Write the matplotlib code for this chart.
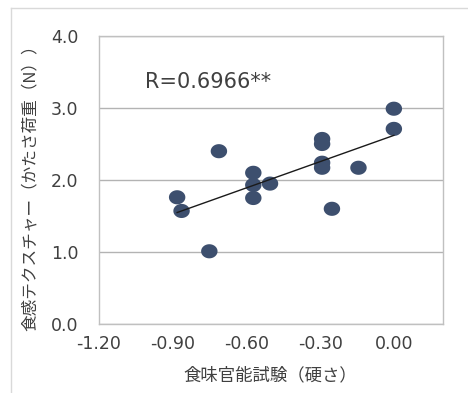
import numpy as np
import matplotlib
matplotlib.use("Agg")
import matplotlib.pyplot as plt
from matplotlib.lines import Line2D
from matplotlib.path import Path

plt.rcParams['font.family'] = ['Noto Sans CJK JP', 'DejaVu Sans']

# Data
hardness = [-0.882, -0.864, -0.751, -0.712, -0.572, -0.572, -0.572, -0.504,
            -0.292, -0.292, -0.292, -0.292, -0.252, -0.144, 0.0, 0.0]
load_N = [1.76, 1.57, 1.01, 2.40, 2.10, 1.93, 1.75, 1.95,
          2.57, 2.50, 2.24, 2.17, 1.60, 2.17, 2.99, 2.71]
x_ticks = [-1.20, -0.90, -0.60, -0.30, 0.00]
x_tick_labels = ["-1.20", "-0.90", "-0.60", "-0.30", "0.00"]
y_ticks = [0.0, 1.0, 2.0, 3.0, 4.0]
y_tick_labels = ["0.0", "1.0", "2.0", "3.0", "4.0"]
r_label = "R=0.6966**"
x_label = "食味官能試験（硬さ）"
y_label = "食感テクスチャー（かたさ荷重（N））"

W, H = 468, 393
fig = plt.figure(figsize=(W / 100, H / 100), dpi=100)
ax = fig.add_axes([99 / W, (H - 324) / H, 344 / W, 288 / H])

txt = '#404040'
t = np.linspace(0, 2 * np.pi, 60)
ellipse = Path(np.column_stack([np.cos(t), 0.86 * np.sin(t)]), closed=True)
ax.scatter(hardness, load_N, s=140, marker=ellipse, color='#3d4f6e',
           edgecolors='none', zorder=3)

xs = np.array(hardness)
ys = np.array(load_N)
m, b = np.polyfit(xs, ys, 1)
xl = np.array([xs.min(), xs.max()])
ax.plot(xl, m * xl + b, color='#1a1a1a', lw=1.0, zorder=4)

ax.set_xlim(-1.2, 0.2)
ax.set_ylim(0, 4)
ax.set_xticks(x_ticks)
ax.set_xticklabels(x_tick_labels, family='DejaVu Sans')
ax.set_yticks(y_ticks)
ax.set_yticklabels(y_tick_labels, family='DejaVu Sans')
ax.tick_params(length=0, labelsize=12.5, colors=txt)
ax.tick_params(axis='y', pad=15)
ax.tick_params(axis='x', pad=8)
ax.grid(axis='y', color='#b3b3b3', lw=1.0)
ax.set_axisbelow(True)
for s in ax.spines.values():
    s.set_color('#c0c0c0')
    s.set_linewidth(1.0)

ax.text(-1.013, 3.36, r_label, fontsize=15, color=txt, va='center', ha='left',
        family='DejaVu Sans')

fig.text(270 / W, 1 - 375 / H, x_label, fontsize=12.5, color=txt,
         ha='center', va='center')
fig.text(30 / W, 1 - 184 / H, y_label, rotation=90, fontsize=12, color=txt,
         ha='center', va='center')

# outer chart border
fig.add_artist(Line2D([10.5 / W, 10.5 / W], [0, 1 - 8 / H], transform=fig.transFigure,
                      color='#d9d9d9', lw=1.0))
fig.add_artist(Line2D([10.5 / W, 1], [1 - 8 / H, 1 - 8 / H], transform=fig.transFigure,
                      color='#d9d9d9', lw=1.0))

fig.savefig("out.png", dpi=100)
